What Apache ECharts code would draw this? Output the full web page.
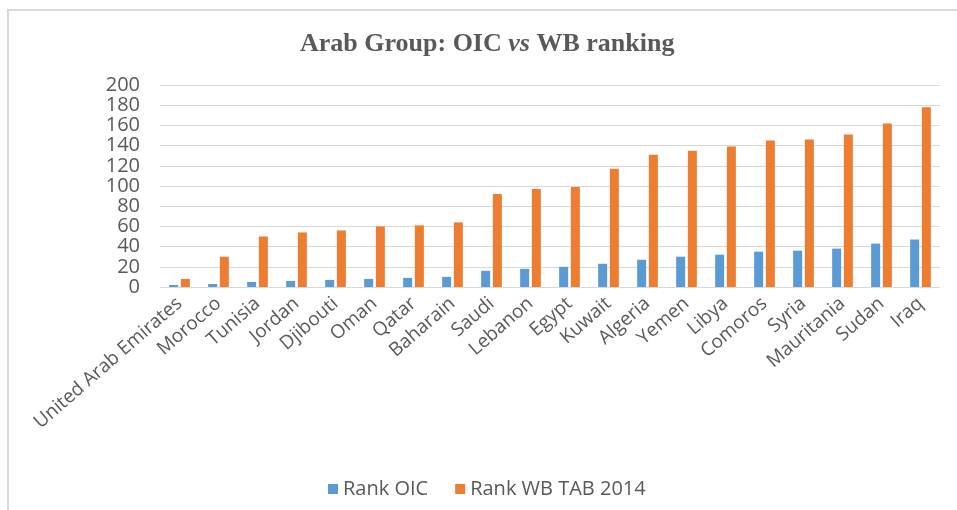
<!DOCTYPE html>
<html>
<head>
<meta charset="utf-8">
<script src="https://cdn.jsdelivr.net/npm/echarts@6/dist/echarts.min.js"></script>
<style>
  html, body { margin: 0; padding: 0; background: #fff; }
  #chart { width: 957px; height: 510px; }
</style>
</head>
<body>
<div id="chart"></div>
<script>
// countries, ordered by WB rank
var countries = ['United Arab Emirates', 'Morocco', 'Tunisia', 'Jordan', 'Djibouti', 'Oman', 'Qatar',
  'Baharain', 'Saudi', 'Lebanon', 'Egypt', 'Kuwait', 'Algeria', 'Yemen', 'Libya', 'Comoros',
  'Syria', 'Mauritania', 'Sudan', 'Iraq'];
var rankOIC = [2, 3, 5, 6, 7, 8, 9, 10, 16, 18, 20, 23, 27, 30, 32, 35, 36, 38, 43, 47];
var rankWB = [8, 30, 50, 54, 56, 60, 61, 64, 92, 97, 99, 117, 131, 135, 139, 145, 146, 151, 162, 178];

var grey = '#595959';
var myChart = echarts.init(document.getElementById('chart'));
var option = {
    animation: false,
    backgroundColor: '#fff',
    title: {
        text: '{b|Arab Group: OIC }{i|vs}{b| WB ranking}',
        left: 295,
        top: 26,
        textStyle: {
            rich: {
                b: { fontFamily: 'Liberation Serif', fontWeight: 'bold', fontSize: 26, color: grey },
                i: { fontFamily: 'Liberation Serif', fontWeight: 'bold', fontStyle: 'italic', fontSize: 26, color: grey }
            }
        }
    },
    graphic: [{
        type: 'rect',
        shape: { x: 8, y: 10, width: 970, height: 520 },
        style: { fill: null, stroke: '#d9d9d9', lineWidth: 2 },
        silent: true
    }],
    legend: {
        left: 323,
        top: 474,
        itemWidth: 10,
        itemHeight: 10,
        itemGap: 27,
        icon: 'rect',
        textStyle: { fontFamily: 'Open Sans', fontSize: 20, color: grey, padding: [0, 0, 0, 0] },
        data: ['Rank OIC', 'Rank WB TAB 2014']
    },
    grid: { left: 160, right: 17, top: 85, bottom: 223 },
    xAxis: {
        type: 'category',
        data: countries,
        axisLine: { lineStyle: { color: '#d9d9d9', width: 1 } },
        axisTick: { show: false },
        axisLabel: {
            rotate: 41,
            interval: 0,
            margin: 14,
            fontFamily: 'Open Sans',
            fontSize: 19,
            color: grey
        }
    },
    yAxis: {
        type: 'value',
        min: 0,
        max: 200,
        interval: 20,
        axisLine: { show: false },
        axisTick: { show: false },
        splitLine: { lineStyle: { color: '#d9d9d9', width: 1 } },
        axisLabel: {
            fontFamily: 'Open Sans', fontSize: 20, color: grey, margin: 20,
            showMinLabel: true, showMaxLabel: true, hideOverlap: false
        }
    },
    series: [
        { name: 'Rank OIC', type: 'bar', data: rankOIC, barWidth: 9, barGap: '30%',
          itemStyle: { color: '#5b9bd5' } },
        { name: 'Rank WB TAB 2014', type: 'bar', data: rankWB, barWidth: 9,
          itemStyle: { color: '#ed7d31' } }
    ]
};
myChart.setOption(option);
</script>
</body>
</html>
